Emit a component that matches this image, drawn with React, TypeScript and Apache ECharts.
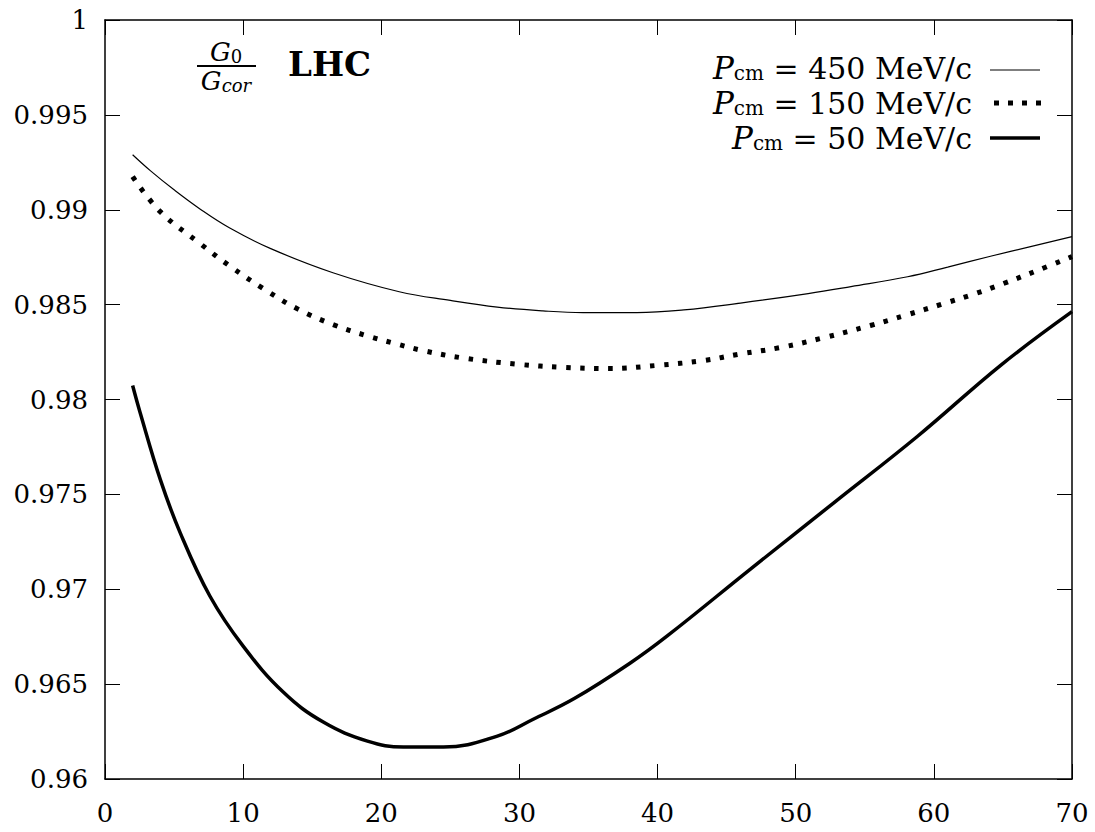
import React, { useEffect, useRef } from "react";
import * as echarts from "echarts";

const xTicks = [0, 10, 20, 30, 40, 50, 60, 70];
const yTicks = [0.96, 0.965, 0.97, 0.975, 0.98, 0.985, 0.99, 0.995, 1];

const x450 = [2, 3.3, 5, 6.9, 9, 12, 16.5, 21.3, 25, 28.4, 31.7, 34.6, 38.5, 41.9, 46, 50.9, 54, 58.1, 61, 64.1, 67, 70];
const y450 = [0.9929, 0.99205, 0.99105, 0.99003, 0.98905, 0.98795, 0.98668, 0.98568, 0.98522, 0.98487, 0.98467, 0.98458, 0.98458, 0.98472, 0.98508, 0.98558, 0.98595, 0.98647, 0.98698, 0.98755, 0.98806, 0.98858];

const x150 = [2, 4, 6.9, 9, 11.45, 14, 16.5, 19, 21, 23, 26, 30, 33, 36.5, 40, 43.3, 46, 48.9, 52, 55.4, 58, 60.7, 63, 65, 67.5, 70];
const y150 = [0.99174, 0.9899, 0.98821, 0.98705, 0.98585, 0.98475, 0.98395, 0.98335, 0.98295, 0.98258, 0.98218, 0.98185, 0.9817, 0.98163, 0.9818, 0.98205, 0.9824, 0.98274, 0.98325, 0.9839, 0.98445, 0.98505, 0.98558, 0.9861, 0.9868, 0.98753];

const x50 = [2, 2.54, 4, 5.43, 7.6, 10, 12.9, 15.8, 19, 21.6, 24.5, 28.4, 31, 34, 38, 40.7, 46.7, 52.8, 58.8, 64.9, 70];
const y50 = [0.98074, 0.97932, 0.97579, 0.973, 0.96963, 0.967, 0.96458, 0.963, 0.962, 0.96168, 0.96168, 0.96226, 0.96315, 0.96425, 0.9661, 0.96754, 0.97105, 0.97458, 0.97805, 0.98184, 0.98463];

const legendLabels = ["450 MeV/c", "150 MeV/c", "50 MeV/c"];

const FONT = "DejaVu Serif";

function pairs(xs: number[], ys: number[]) {
  return xs.map((x, i) => [x, ys[i]]);
}

export default function App() {
  const ref = useRef<HTMLDivElement>(null);
  useEffect(() => {
    if (!ref.current) return;
    const chart = echarts.init(ref.current, undefined, { renderer: "svg" });
    const axisCommon = {
      axisLine: { show: true, onZero: false, lineStyle: { color: "#000", width: 1.5 } },
      axisTick: { show: true, inside: true, length: 15, lineStyle: { color: "#000", width: 1 } },
      splitLine: { show: false },
    };
    const labelStyle = { color: "#000", fontFamily: FONT, fontSize: 26 };
    const rowY = [68, 103, 138];
    const legendGraphics: any[] = [];
    legendLabels.forEach((lab, i) => {
      legendGraphics.push({
        type: "text",
        x: 972,
        y: rowY[i],
        style: {
          text: "{p|P}{s|cm}{n| = " + lab + "}",
          align: "right",
          verticalAlign: "middle",
          fill: "#000",
          rich: {
            p: { fontFamily: FONT, fontStyle: "italic", fontSize: 31, lineHeight: 30, fill: "#000" },
            s: { fontFamily: FONT, fontSize: 20, lineHeight: 18, verticalAlign: "bottom", fill: "#000" },
            n: { fontFamily: FONT, fontSize: 30, lineHeight: 30, fill: "#000" },
          },
        },
      });
    });
    legendGraphics.push(
      { type: "line", shape: { x1: 990, y1: rowY[0] + 2, x2: 1040, y2: rowY[0] + 2 }, style: { stroke: "#000", lineWidth: 1.2 } },
      { type: "line", shape: { x1: 994, y1: rowY[1], x2: 1042, y2: rowY[1] }, style: { stroke: "#000", lineWidth: 5, lineDash: [5, 9] } },
      { type: "line", shape: { x1: 990, y1: rowY[2], x2: 1040, y2: rowY[2] }, style: { stroke: "#000", lineWidth: 3.5 } },
      {
        type: "text",
        x: 226,
        y: 52,
        style: {
          text: "{g|G}{s|0}",
          align: "center",
          verticalAlign: "middle",
          rich: {
            g: { fontFamily: FONT, fontStyle: "italic", fontSize: 26, lineHeight: 26, fill: "#000" },
            s: { fontFamily: FONT, fontSize: 18, lineHeight: 16, verticalAlign: "bottom", fill: "#000" },
          },
        },
      },
      { type: "line", shape: { x1: 197, y1: 66, x2: 256, y2: 66 }, style: { stroke: "#000", lineWidth: 1.8 } },
      {
        type: "text",
        x: 226,
        y: 81,
        style: {
          text: "{g|G}{s|cor}",
          align: "center",
          verticalAlign: "middle",
          rich: {
            g: { fontFamily: FONT, fontStyle: "italic", fontSize: 26, lineHeight: 26, fill: "#000" },
            s: { fontFamily: FONT, fontStyle: "italic", fontSize: 18, lineHeight: 16, verticalAlign: "bottom", fill: "#000" },
          },
        },
      },
      {
        type: "text",
        x: 288,
        y: 64,
        style: { text: "LHC", fontFamily: FONT, fontWeight: "bold", fontSize: 34, fill: "#000", align: "left", verticalAlign: "middle" },
      }
    );

    chart.setOption({
      animation: false,
      backgroundColor: "#fff",
      grid: { left: 105, right: 23, top: 20, bottom: 53, containLabel: false },
      xAxis: [
        {
          type: "value",
          min: xTicks[0],
          max: xTicks[xTicks.length - 1],
          interval: 10,
          position: "bottom",
          ...axisCommon,
          axisLabel: { ...labelStyle, margin: 21 },
        },
        {
          type: "value",
          min: xTicks[0],
          max: xTicks[xTicks.length - 1],
          interval: 10,
          position: "top",
          ...axisCommon,
          axisLabel: { show: false },
        },
      ],
      yAxis: [
        {
          type: "value",
          min: yTicks[0],
          max: yTicks[yTicks.length - 1],
          interval: 0.005,
          position: "left",
          ...axisCommon,
          axisLabel: {
            ...labelStyle,
            margin: 17,
            formatter: (v: number) => String(parseFloat(v.toFixed(3))),
          },
        },
        {
          type: "value",
          min: yTicks[0],
          max: yTicks[yTicks.length - 1],
          interval: 0.005,
          position: "right",
          ...axisCommon,
          axisLabel: { show: false },
        },
      ],
      series: [
        {
          name: "450",
          type: "line",
          data: pairs(x450, y450),
          smooth: 0.4,
          showSymbol: false,
          symbol: "none",
          lineStyle: { color: "#000", width: 1.2 },
        },
        {
          name: "150",
          type: "line",
          data: pairs(x150, y150),
          smooth: 0.4,
          showSymbol: false,
          symbol: "none",
          lineStyle: { color: "#000", width: 5, type: [4.5, 9.5], cap: "butt" },
        },
        {
          name: "50",
          type: "line",
          data: pairs(x50, y50),
          smooth: 0.4,
          showSymbol: false,
          symbol: "none",
          lineStyle: { color: "#000", width: 3.5 },
        },
      ],
      graphic: legendGraphics,
    });
    return () => chart.dispose();
  }, []);
  return (
    <div
      ref={ref}
      style={{ position: "absolute", left: 0, top: 0, width: 1095, height: 832, background: "#fff" }}
    />
  );
}
